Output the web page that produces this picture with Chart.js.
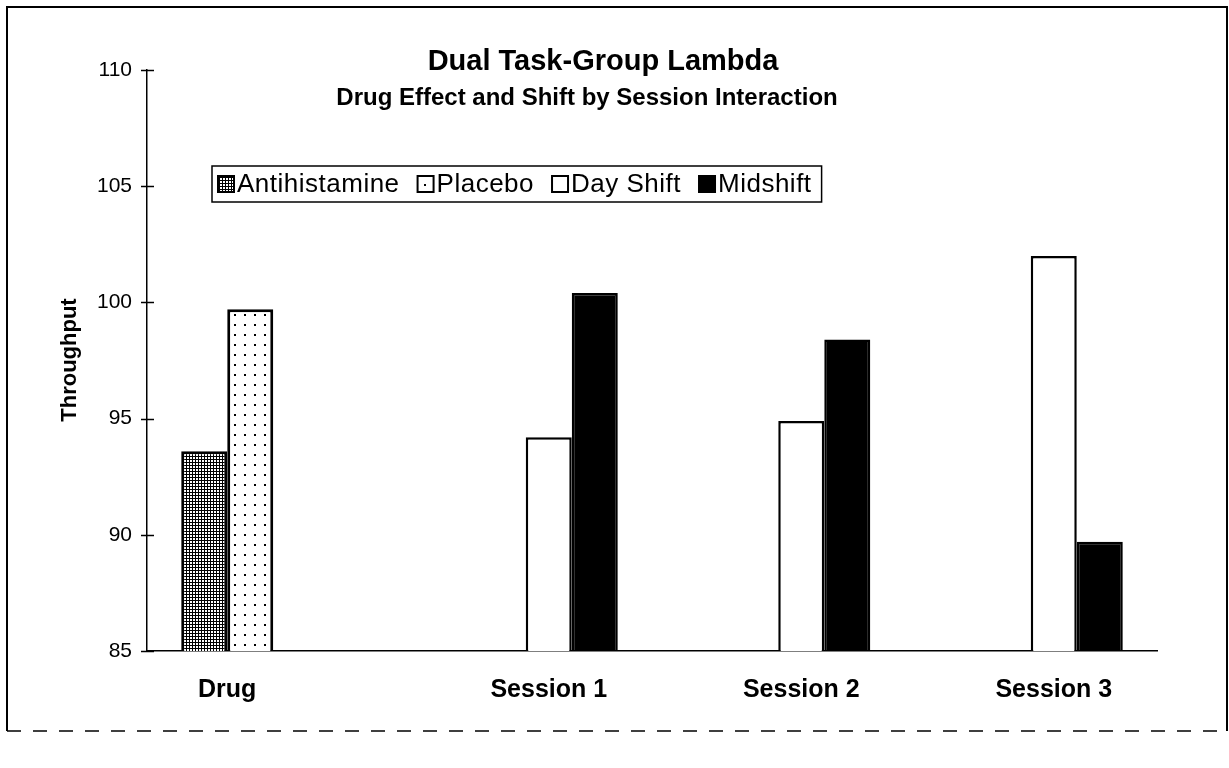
<!DOCTYPE html>
<html>
<head>
<meta charset="utf-8">
<script src="https://cdn.jsdelivr.net/npm/chart.js@4.4.1/dist/chart.umd.min.js"></script>
<style>
  html, body { margin: 0; padding: 0; background: #fff; }
</style>
</head>
<body>
<canvas id="myChart" width="1229" height="768"></canvas>
<script>
var categories = ["Drug", "Session 1", "Session 2", "Session 3"];
var antihistamine = [93.6, null, null, null];
var placebo = [99.7, null, null, null];
var dayShift = [null, 94.2, 94.9, 102.0];
var midshift = [null, 100.4, 98.4, 89.7];
var yTicks = [85, 90, 95, 100, 105, 110];

var FONT = '"Liberation Sans", Arial, Helvetica, sans-serif';

var ctx1 = document.getElementById("myChart");

// fill patterns like the old printer hatching
function makePattern(size, draw) {
    var c = document.createElement('canvas');
    c.width = size;
    c.height = size;
    var g = c.getContext('2d');
    g.fillStyle = '#fff';
    g.fillRect(0, 0, size, size);
    g.fillStyle = '#000';
    draw(g);
    return ctx1.getContext('2d').createPattern(c, 'repeat');
}
var densePattern = makePattern(3, function (g) {
    g.fillRect(0, 0, 3, 1);
    g.fillRect(0, 0, 1, 3);
});
var sparsePattern = makePattern(10, function (g) {
    g.fillRect(4, 4, 2, 2);
});

// frame round the whole picture
var framePlugin = {
    id: 'frame',
    beforeDraw: function (chart) {
        var c = chart.ctx;
        c.save();
        c.strokeStyle = '#000';
        c.lineWidth = 2;
        c.beginPath();
        c.moveTo(7, 731);
        c.lineTo(7, 7);
        c.lineTo(1227, 7);
        c.lineTo(1227, 731);
        c.stroke();
        c.setLineDash([14, 12]);
        c.lineWidth = 1.5;
        c.beginPath();
        c.moveTo(7, 731);
        c.lineTo(1227, 731);
        c.stroke();
        c.restore();
    }
};

// titles, axis title, category labels, tick crosses and legend
var decorPlugin = {
    id: 'decor',
    afterDraw: function (chart) {
        var c = chart.ctx;
        var area = chart.chartArea;
        var y = chart.scales.y;
        c.save();
        c.fillStyle = '#000';
        c.textAlign = 'center';
        c.textBaseline = 'middle';
        c.font = 'bold 29px ' + FONT;
        c.fillText('Dual Task-Group Lambda', 603, 62);
        c.font = 'bold 24px ' + FONT;
        c.fillText('Drug Effect and Shift by Session Interaction', 587, 98);

        // y axis title
        c.save();
        c.translate(70, 360);
        c.rotate(-Math.PI / 2);
        c.font = 'bold 22px ' + FONT;
        c.fillText('Throughput', 0, 0);
        c.restore();

        // tick marks crossing the axis
        c.strokeStyle = '#000';
        c.lineWidth = 1.5;
        yTicks.forEach(function (t) {
            var py = Math.round(y.getPixelForValue(t)) + 0.5;
            c.beginPath();
            c.moveTo(area.left - 6, py);
            c.lineTo(area.left + 7, py);
            c.stroke();
        });

        // category labels: drug label under its pair, session labels sit
        // under the day shift bar
        c.font = 'bold 25px ' + FONT;
        categories.forEach(function (cat, i) {
            var xs = [];
            chart.data.datasets.forEach(function (ds, d) {
                if (ds.data[i] !== null) {
                    xs.push(chart.getDatasetMeta(d).data[i].x);
                }
            });
            var lx = i === 0 ? (xs[0] + xs[xs.length - 1]) / 2 : xs[0];
            c.fillText(cat, lx, area.bottom + 39);
        });

        // legend box
        c.font = '26px ' + FONT;
        c.letterSpacing = '0.5px';
        c.textAlign = 'left';
        var lx0 = 212, ly = 166, lh = 36, box = 16, gap = 18, pad = 6;
        var w = pad;
        chart.data.datasets.forEach(function (ds) {
            w += box + 4 + c.measureText(ds.label).width + gap;
        });
        w = w - gap + pad;
        c.fillStyle = '#fff';
        c.fillRect(lx0, ly, w, lh);
        c.lineWidth = 1.5;
        c.strokeRect(lx0, ly, w, lh);
        var x = lx0 + pad;
        chart.data.datasets.forEach(function (ds) {
            var by = ly + (lh - box) / 2;
            c.fillStyle = ds.backgroundColor;
            c.fillRect(x, by, box, box);
            c.lineWidth = 2;
            c.strokeStyle = '#000';
            c.strokeRect(x, by, box, box);
            x += box + 3;
            c.fillStyle = '#000';
            c.textBaseline = 'middle';
            c.fillText(ds.label, x, ly + lh / 2 + 1);
            x += c.measureText(ds.label).width + gap;
        });
        c.restore();
    }
};

var myChart1 = new Chart(ctx1, {
    type: 'bar',
    data: {
        labels: categories,
        datasets: [
            {
                label: 'Antihistamine',
                data: antihistamine,
                backgroundColor: densePattern,
                borderColor: '#000',
                borderWidth: 3,
                borderSkipped: false
            },
            {
                label: 'Placebo',
                data: placebo,
                backgroundColor: sparsePattern,
                borderColor: '#000',
                borderWidth: 3,
                borderSkipped: false
            },
            {
                label: 'Day Shift',
                data: dayShift,
                backgroundColor: '#fff',
                borderColor: '#000',
                borderWidth: 2.5,
                borderSkipped: false
            },
            {
                label: 'Midshift',
                data: midshift,
                backgroundColor: '#000',
                borderColor: '#000',
                borderWidth: 2.5,
                borderSkipped: false
            }
        ]
    },
    options: {
        responsive: false,
        animation: false,
        layout: {
            padding: { left: 0, right: 72, top: 70, bottom: 0 }
        },
        datasets: {
            bar: {
                barPercentage: 1.0,
                categoryPercentage: 0.729
            }
        },
        plugins: {
            legend: { display: false },
            title: { display: false },
            tooltip: { enabled: false }
        },
        scales: {
            x: {
                grid: { display: false, drawTicks: false },
                border: { display: true, color: '#000', width: 1.5 },
                ticks: { display: false },
                afterFit: function (scale) { scale.height = 768 - 651; }
            },
            y: {
                min: 85,
                max: 110,
                grid: { display: false, drawTicks: false, tickLength: 0 },
                border: { display: true, color: '#000', width: 1.5 },
                ticks: {
                    stepSize: 5,
                    padding: 15,
                    color: '#000',
                    font: { family: FONT, size: 21 }
                },
                afterFit: function (scale) { scale.width = 147; }
            }
        }
    },
    plugins: [framePlugin, decorPlugin]
});
</script>
</body>
</html>
